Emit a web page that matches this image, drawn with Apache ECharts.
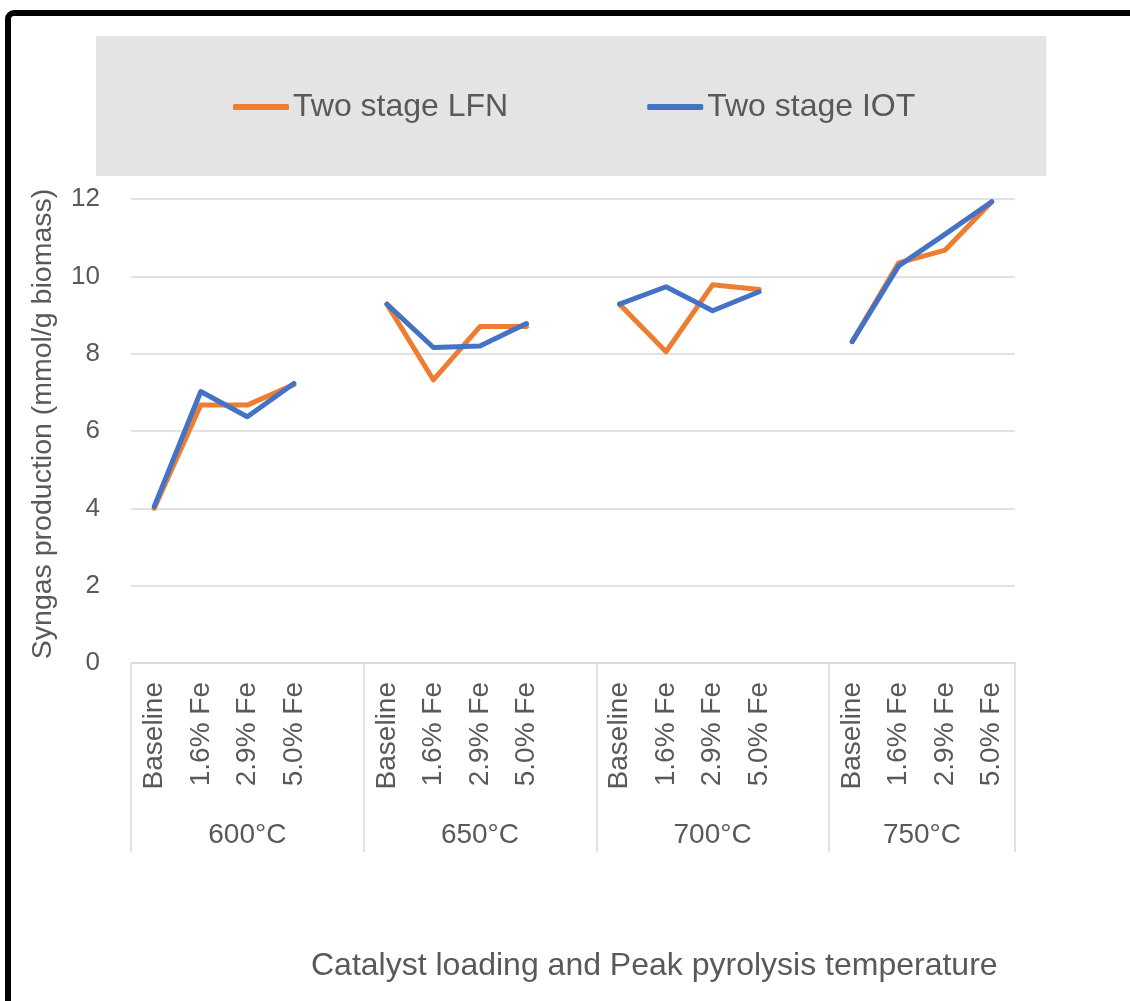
<!DOCTYPE html>
<html>
<head>
<meta charset="utf-8">
<script src="https://cdn.jsdelivr.net/npm/echarts@6/dist/echarts.min.js"></script>
<style>
  html, body { margin: 0; padding: 0; background: #fff; }
  #chart { width: 1130px; height: 1001px; }
</style>
</head>
<body>
<div id="chart"></div>
<script>
// Catalyst loading levels within each temperature group
const loadings = ['Baseline', '1.6% Fe', '2.9% Fe', '5.0% Fe'];
// Peak pyrolysis temperatures
const temperatures = ['600°C', '650°C', '700°C', '750°C'];

// Syngas production (mmol/g biomass), two stage LFN
const lfn600 = [4.00, 6.67, 6.67, 7.20];
const lfn650 = [9.28, 7.32, 8.70, 8.70];
const lfn700 = [9.28, 8.05, 9.78, 9.66];
const lfn750 = [8.31, 10.35, 10.68, 11.93];

// Syngas production (mmol/g biomass), two stage IOT
const iot600 = [4.05, 7.02, 6.37, 7.23];
const iot650 = [9.28, 8.16, 8.20, 8.78];
const iot700 = [9.28, 9.73, 9.11, 9.60];
const iot750 = [8.31, 10.27, 11.09, 11.93];

const yTicks = [0, 2, 4, 6, 8, 10, 12];

// Flatten groups onto one category axis, leaving an empty slot between groups
function buildCategories() {
  const out = [];
  temperatures.forEach((t, gi) => {
    loadings.forEach(l => out.push(l));
    if (gi < temperatures.length - 1) out.push('');
  });
  return out;
}
function buildSeries(groups) {
  const out = [];
  groups.forEach((g, gi) => {
    g.forEach(v => out.push(v));
    if (gi < groups.length - 1) out.push(null);
  });
  return out;
}

const categories = buildCategories();
const nCat = categories.length;

// Group boundaries and centres in category units (for the second label row)
const groupEdges = [0];
const groupCentres = [];
{
  let pos = 0;
  temperatures.forEach((t, gi) => {
    const span = loadings.length + (gi < temperatures.length - 1 ? 1 : 0);
    groupCentres.push(pos + span / 2);
    pos += span;
    groupEdges.push(pos);
  });
}

const textGray = '#595959';
const gridGray = '#d9d9d9';
const font = '"Liberation Sans", Arial, sans-serif';

const chart = echarts.init(document.getElementById('chart'), null, { renderer: 'canvas' });

chart.setOption({
  animation: false,
  backgroundColor: '#ffffff',
  textStyle: { fontFamily: font },
  title: {
    text: 'Catalyst loading and Peak pyrolysis temperature',
    left: 306,
    top: 945,
    textStyle: { fontFamily: font, fontSize: 32, fontWeight: 'normal', color: textGray }
  },
  legend: {
    left: 96,
    top: 36,
    padding: [55, 131, 53, 137],
    backgroundColor: '#e4e4e4',
    itemGap: 139,
    itemWidth: 56,
    itemHeight: 6,
    icon: 'roundRect',
    textStyle: { fontFamily: font, fontSize: 32, color: textGray, padding: [0, 0, 0, -1] },
    data: ['Two stage LFN', 'Two stage IOT']
  },
  grid: { left: 131, right: 115, top: 199, bottom: 338, containLabel: false },
  xAxis: [
    {
      type: 'category',
      data: categories,
      boundaryGap: true,
      axisLine: { show: true, lineStyle: { color: gridGray, width: 1.5 } },
      axisTick: { show: false },
      axisLabel: {
        interval: 0,
        rotate: 90,
        margin: 19,
        fontSize: 28,
        color: textGray,
        fontFamily: font
      },
      splitLine: { show: false }
    },
    {
      type: 'value',
      position: 'bottom',
      min: 0,
      max: nCat,
      interval: 0.5,
      axisLine: { show: false },
      axisTick: {
        show: true,
        customValues: groupEdges,
        length: 189,
        lineStyle: { color: gridGray, width: 1.5 }
      },
      axisLabel: {
        show: true,
        customValues: groupCentres,
        margin: 158,
        fontSize: 28,
        color: textGray,
        fontFamily: font,
        formatter: v => {
          const i = groupCentres.indexOf(v);
          return i >= 0 ? temperatures[i] : '';
        }
      },
      splitLine: { show: false }
    }
  ],
  yAxis: {
    type: 'value',
    min: yTicks[0],
    max: yTicks[yTicks.length - 1],
    interval: 2,
    name: 'Syngas production (mmol/g biomass)',
    nameLocation: 'middle',
    nameGap: 73,
    nameTextStyle: { fontSize: 28.5, color: textGray, fontFamily: font, padding: [0, 0, 0, 14] },
    axisLine: { show: false },
    axisTick: { show: false },
    axisLabel: { fontSize: 26, color: textGray, margin: 31, fontFamily: font },
    splitLine: { lineStyle: { color: gridGray, width: 1.5 } }
  },
  series: [
    {
      name: 'Two stage LFN',
      type: 'line',
      xAxisIndex: 0,
      data: buildSeries([lfn600, lfn650, lfn700, lfn750]),
      connectNulls: false,
      showSymbol: false,
      symbol: 'none',
      itemStyle: { color: '#ED7D31' },
      lineStyle: { color: '#ED7D31', width: 5, cap: 'round', join: 'round' }
    },
    {
      name: 'Two stage IOT',
      type: 'line',
      xAxisIndex: 0,
      data: buildSeries([iot600, iot650, iot700, iot750]),
      connectNulls: false,
      showSymbol: false,
      symbol: 'none',
      itemStyle: { color: '#4472C4' },
      lineStyle: { color: '#4472C4', width: 5, cap: 'round', join: 'round' }
    }
  ],
  graphic: [
    {
      // heavy frame along the top and left edges of the figure
      type: 'rect',
      silent: true,
      z: 100,
      shape: { x: 8, y: 13, width: 1300, height: 1200, r: 6 },
      style: { fill: 'none', stroke: '#000', lineWidth: 6 }
    }
  ]
});
</script>
</body>
</html>
